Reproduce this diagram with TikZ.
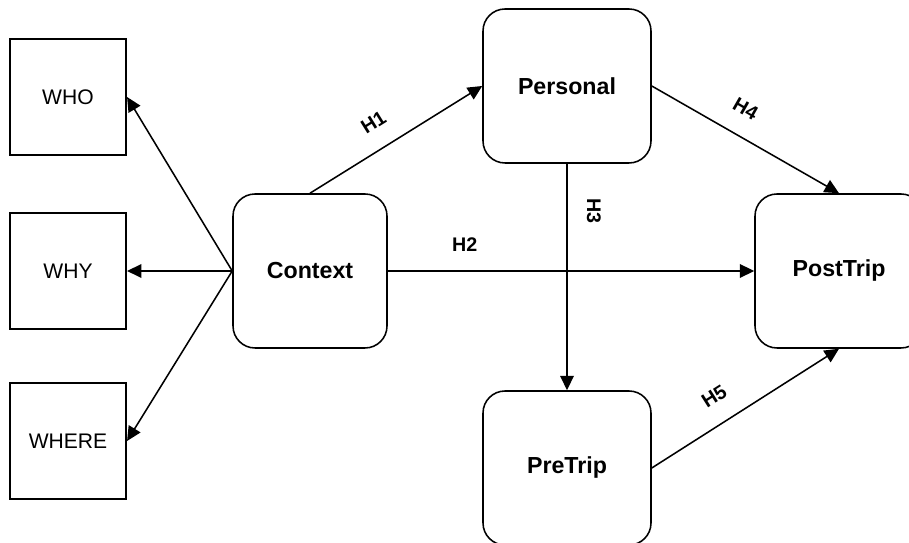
\documentclass[tikz,border=0pt]{standalone}
\usepackage{fontspec}
\setmainfont{Liberation Sans}
\usetikzlibrary{arrows.meta}

\begin{document}
\begin{tikzpicture}[
  facet/.style={draw, line width=1.5pt, minimum width=2.9cm, minimum height=2.9cm, font=\fontsize{15}{18}\selectfont},
  stage/.style={draw, line width=1.1pt, rounded corners=0.55cm, minimum width=4.2cm, minimum height=3.85cm, font=\fontsize{16.5}{20}\selectfont\bfseries},
  link/.style={line width=1.1pt, -{Triangle[length=0.36cm,width=0.34cm]}},
  hyp/.style={font=\fontsize{14}{17}\selectfont\bfseries, inner sep=0pt, sloped, above=0.48cm}
]
\useasboundingbox (0,0) rectangle (22.725,13.575);

% the three facets on the left
\node[facet] (who) at (1.7,11.15) {WHO};
\node[facet] (why) at (1.7,6.8) {WHY};
\node[facet] (where) at (1.7,2.55) {WHERE};

% main constructs
\node[stage, minimum width=3.85cm] (context) at (7.75,6.8) {Context};
\node[stage] (personal) at (14.175,11.425) {Personal};
\node[stage] (pretrip) at (14.175,1.875) {PreTrip};
\node[stage] (posttrip) at (20.975,6.8) {PostTrip};

\draw[link] (context.west) -- (who.east);
\draw[link] (context.west) -- (why.east);
\draw[link] (context.west) -- (where.east);

% hypotheses
\draw[link] (context.north) -- node[hyp, pos=0.45] {H1} (personal.west);
\draw[link] (context.east) -- node[hyp, pos=0.21] {H2} (posttrip.west);
\draw[link] (personal.south) -- node[hyp, pos=0.21, allow upside down] {H3} (pretrip.north);
\draw[link] (personal.east) -- node[hyp, pos=0.43] {H4} (posttrip.north);
\draw[link] (pretrip.east) -- node[hyp, pos=0.41] {H5} (posttrip.south);
\end{tikzpicture}
\end{document}
